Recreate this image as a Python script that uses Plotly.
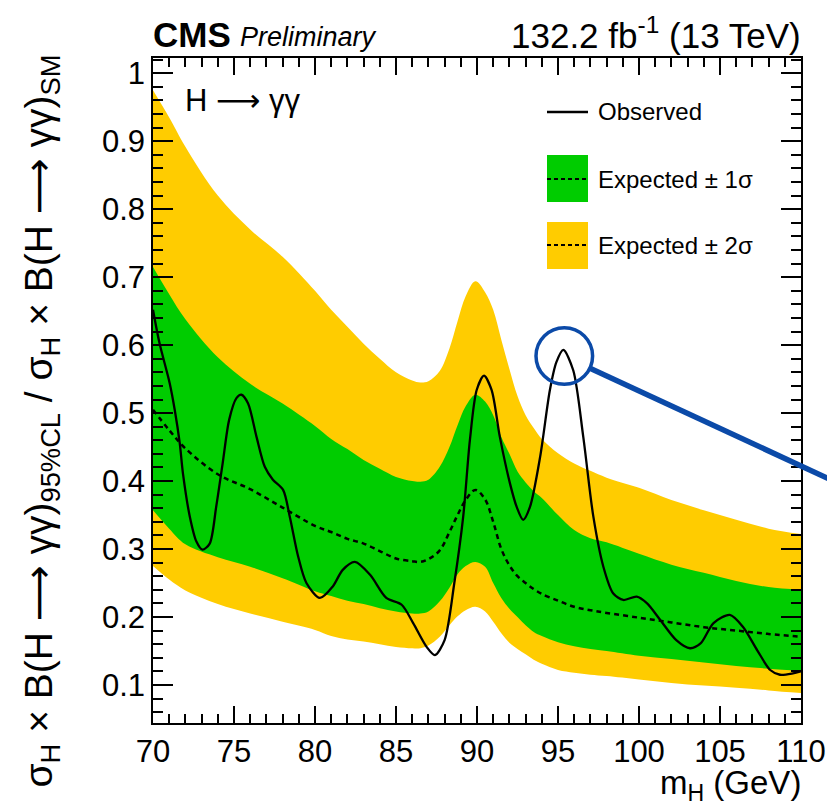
import plotly.graph_objects as go

# ---------------- data ----------------
mass_band = [70, 71, 72, 74, 76, 78, 80, 81, 82, 83, 84, 85, 86, 86.5, 87, 87.7, 88.3, 88.8,
             89.3, 89.9, 90.5, 91, 91.5, 92, 92.5, 93, 93.5, 94, 95, 96, 97, 98, 100, 102,
             104, 106, 108, 110]
up2 = [0.975, 0.935, 0.892, 0.820, 0.770, 0.730, 0.680, 0.652, 0.627, 0.602, 0.580, 0.560,
       0.548, 0.545, 0.547, 0.562, 0.595, 0.635, 0.672, 0.694, 0.678, 0.652, 0.608, 0.565,
       0.525, 0.497, 0.478, 0.462, 0.441, 0.426, 0.415, 0.405, 0.390, 0.372, 0.357, 0.343,
       0.330, 0.322]
up1 = [0.715, 0.675, 0.638, 0.582, 0.543, 0.514, 0.481, 0.462, 0.447, 0.431, 0.418, 0.406,
       0.400, 0.399, 0.402, 0.421, 0.450, 0.482, 0.510, 0.527, 0.517, 0.497, 0.465, 0.440,
       0.414, 0.398, 0.385, 0.375, 0.350, 0.328, 0.316, 0.310, 0.293, 0.277, 0.265, 0.253,
       0.244, 0.240]
lo1 = [0.357, 0.330, 0.307, 0.288, 0.274, 0.257, 0.238, 0.231, 0.224, 0.219, 0.213, 0.208,
       0.205, 0.205, 0.208, 0.223, 0.243, 0.263, 0.275, 0.281, 0.274, 0.250, 0.228, 0.212,
       0.200, 0.188, 0.178, 0.172, 0.163, 0.157, 0.153, 0.150, 0.143, 0.138, 0.133, 0.128,
       0.124, 0.121]
lo2 = [0.275, 0.255, 0.239, 0.219, 0.205, 0.193, 0.181, 0.172, 0.167, 0.164, 0.160, 0.156,
       0.154, 0.154, 0.158, 0.171, 0.188, 0.201, 0.210, 0.215, 0.208, 0.193, 0.176, 0.162,
       0.153, 0.145, 0.137, 0.131, 0.122, 0.118, 0.115, 0.113, 0.108, 0.103, 0.099, 0.096,
       0.092, 0.088]
expected = [0.505, 0.475, 0.448, 0.410, 0.388, 0.361, 0.334, 0.325, 0.315, 0.308, 0.297, 0.286,
            0.282, 0.281, 0.285, 0.298, 0.325, 0.350, 0.372, 0.387, 0.373, 0.340, 0.300, 0.276,
            0.260, 0.250, 0.241, 0.234, 0.224, 0.215, 0.210, 0.206, 0.199, 0.192, 0.185, 0.180,
            0.175, 0.171]

mass_obs = [70, 70.4, 71.03, 71.34, 71.65, 71.85, 72.27, 72.68, 73.05, 73.5, 73.9, 74.3, 74.7,
            75.15, 75.46, 75.87, 76.39, 76.9, 77.4, 78.03, 78.44, 78.96, 79.47, 80.3, 81.1,
            81.7, 82.46, 83.4, 84.4, 85.35, 86.06, 86.89, 87.4, 88.0, 88.6, 89.15, 89.56,
            89.98, 90.43, 90.9, 91.41, 92.03, 92.45, 92.85, 93.27, 93.9, 94.5, 94.9, 95.33,
            95.94, 96.56, 97.18, 97.8, 98.4, 99.03, 99.86, 100.5, 101.3, 102.3, 103.15, 103.8,
            104.6, 105.6, 106.4, 107.3, 108.1, 108.7, 109.5, 110]
observed = [0.652, 0.603, 0.544, 0.505, 0.456, 0.411, 0.348, 0.311, 0.299, 0.308, 0.362, 0.426,
            0.490, 0.522, 0.527, 0.514, 0.465, 0.421, 0.402, 0.387, 0.348, 0.289, 0.250, 0.228,
            0.245, 0.269, 0.281, 0.262, 0.228, 0.218, 0.191, 0.156, 0.144, 0.166, 0.250, 0.348,
            0.460, 0.534, 0.555, 0.534, 0.465, 0.397, 0.362, 0.343, 0.362, 0.436, 0.534, 0.575,
            0.593, 0.563, 0.465, 0.348, 0.274, 0.235, 0.225, 0.230, 0.220, 0.196, 0.166, 0.154,
            0.161, 0.191, 0.203, 0.186, 0.151, 0.122, 0.115, 0.117, 0.120]

x_range = [70, 110]
y_range = [0.044, 1.0225]
y_ticks = [0.1, 0.2, 0.3, 0.4, 0.5, 0.6, 0.7, 0.8, 0.9, 1.0]
y_labels = ["0.1", "0.2", "0.3", "0.4", "0.5", "0.6", "0.7", "0.8", "0.9", "1"]

# ---------------- styling ----------------
YELLOW = "#ffcc00"
GREEN = "#00cc00"
BLUE = "#0b4aa8"
FONT = "Liberation Sans, Arial, Helvetica, sans-serif"
ARROW = '<span style="font-family:DejaVu Sans">\u27f6</span>'

W, H = 827, 808
ML, MR, MT, MB = 153, 26, 58, 85
PW, PH = W - ML - MR, H - MT - MB


def px(xp):
    return (xp - ML) / PW


def py(yp):
    return (H - MB - yp) / PH


fig = go.Figure()
fig.add_trace(go.Scatter(x=mass_band, y=lo2, mode="lines", line=dict(width=0, shape="spline"),
                         showlegend=False, hoverinfo="skip"))
fig.add_trace(go.Scatter(x=mass_band, y=up2, mode="lines", line=dict(width=0, shape="spline"),
                         fill="tonexty", fillcolor=YELLOW, showlegend=False, hoverinfo="skip"))
fig.add_trace(go.Scatter(x=mass_band, y=lo1, mode="lines", line=dict(width=0, shape="spline"),
                         showlegend=False, hoverinfo="skip"))
fig.add_trace(go.Scatter(x=mass_band, y=up1, mode="lines", line=dict(width=0, shape="spline"),
                         fill="tonexty", fillcolor=GREEN, showlegend=False, hoverinfo="skip"))
fig.add_trace(go.Scatter(x=mass_band, y=expected, mode="lines",
                         line=dict(color="black", width=2.5, dash="5px,4px", shape="spline"),
                         showlegend=False))
fig.add_trace(go.Scatter(x=mass_obs, y=observed, mode="lines",
                         line=dict(color="black", width=2.3, shape="spline", smoothing=0.8),
                         showlegend=False))

axis_common = dict(showline=True, linecolor="black", linewidth=1.5, mirror="allticks",
                   ticks="inside", showgrid=False, zeroline=False, automargin=False,
                   tickfont=dict(family=FONT, size=31, color="black"), tickcolor="black",
                   tickwidth=1.5)

fig.update_xaxes(range=x_range, tick0=70, dtick=5, ticklen=17,
                 minor=dict(ticks="inside", dtick=1, ticklen=9, tickcolor="black", tickwidth=1.5,
                            showgrid=False),
                 **axis_common)
fig.update_yaxes(range=y_range, tickvals=y_ticks, ticktext=y_labels, ticklen=20,
                 minor=dict(ticks="inside", dtick=0.02, tick0=0, ticklen=10, tickcolor="black",
                            tickwidth=1.5, showgrid=False),
                 **axis_common)

ann = []
ann.append(dict(text="<b>CMS</b>", x=px(151), y=py(35), xanchor="left", yanchor="middle",
                font=dict(family=FONT, size=35, color="black")))
ann.append(dict(text="<i>Preliminary</i>", x=px(238), y=py(37), xanchor="left", yanchor="middle",
                font=dict(family=FONT, size=27, color="black")))
ann.append(dict(text="132.2 fb<sup>-1</sup> (13 TeV)", x=px(803), y=py(33), xanchor="right",
                yanchor="middle", font=dict(family=FONT, size=35, color="black")))
ann.append(dict(text="H " + ARROW + " \u03b3\u03b3", x=px(183), y=py(100), xanchor="left",
                yanchor="middle", font=dict(family=FONT, size=31, color="black")))
ann.append(dict(text="m<sub>H</sub> (GeV)", x=px(803), y=py(785), xanchor="right", yanchor="middle",
                font=dict(family=FONT, size=33, color="black")))
ann.append(dict(text="\u03c3<sub>H</sub> \u00d7 B(H " + ARROW + " \u03b3\u03b3)<sub>95%CL</sub> / "
                     "\u03c3<sub>H</sub> \u00d7 B(H " + ARROW + " \u03b3\u03b3)<sub>SM</sub>",
                x=px(41), y=py(53), xanchor="center", yanchor="top", textangle=-90,
                font=dict(family=FONT, size=39, color="black")))
# legend texts
ann.append(dict(text="Observed", x=px(596), y=py(112), xanchor="left", yanchor="middle",
                font=dict(family=FONT, size=24, color="black")))
ann.append(dict(text="Expected \u00b1 1\u03c3", x=px(596), y=py(179), xanchor="left", yanchor="middle",
                font=dict(family=FONT, size=24, color="black")))
ann.append(dict(text="Expected \u00b1 2\u03c3", x=px(596), y=py(245), xanchor="left", yanchor="middle",
                font=dict(family=FONT, size=24, color="black")))
for a in ann:
    a.update(xref="paper", yref="paper", showarrow=False)

shapes = []
# legend symbols
shapes.append(dict(type="line", x0=px(547), x1=px(588), y0=py(112), y1=py(112),
                   line=dict(color="black", width=2.3)))
shapes.append(dict(type="rect", x0=px(547), x1=px(588), y0=py(155), y1=py(202),
                   fillcolor=GREEN, line=dict(width=0)))
shapes.append(dict(type="line", x0=px(547), x1=px(588), y0=py(179), y1=py(179),
                   line=dict(color="black", width=2, dash="4px,3px")))
shapes.append(dict(type="rect", x0=px(547), x1=px(588), y0=py(222), y1=py(269),
                   fillcolor=YELLOW, line=dict(width=0)))
shapes.append(dict(type="line", x0=px(547), x1=px(588), y0=py(245), y1=py(245),
                   line=dict(color="black", width=2, dash="4px,3px")))
# blue highlight circle and pointer line
shapes.append(dict(type="circle", x0=px(536), x1=px(592.6), y0=py(384.3), y1=py(327.7),
                   line=dict(color=BLUE, width=3.5)))
shapes.append(dict(type="line", x0=px(590), y0=py(368.3), x1=px(845), y1=py(486.3),
                   line=dict(color=BLUE, width=5.5)))
for s in shapes:
    s.update(xref="paper", yref="paper", layer="above")

fig.update_layout(width=W, height=H, margin=dict(l=ML, r=MR, t=MT, b=MB),
                  paper_bgcolor="white", plot_bgcolor="white",
                  annotations=ann, shapes=shapes, showlegend=False,
                  font=dict(family=FONT, color="black"))

fig.write_html("out.html")
